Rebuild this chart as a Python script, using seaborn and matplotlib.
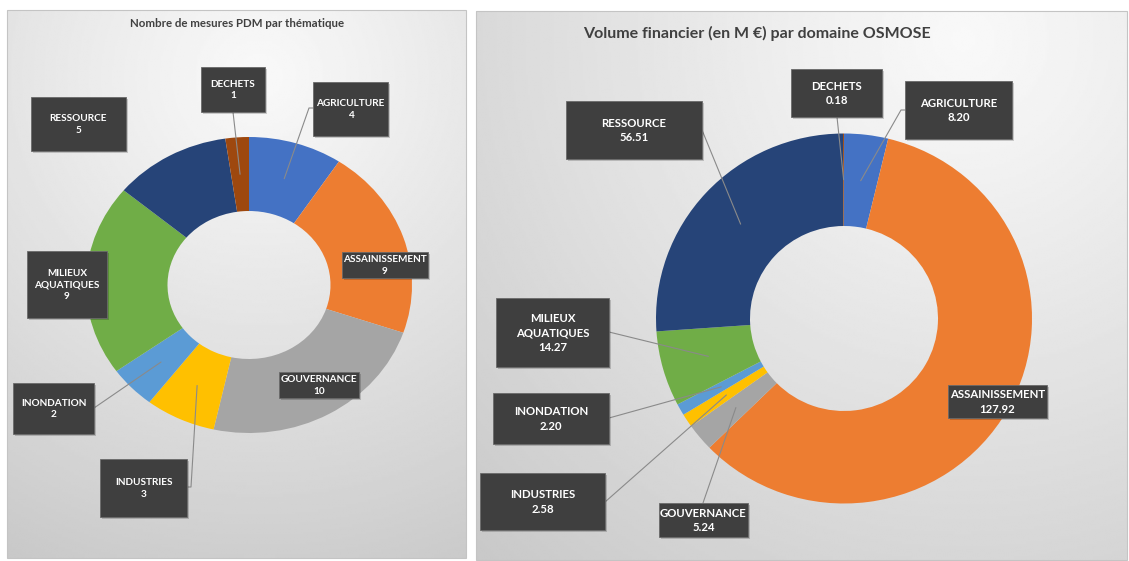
import numpy as np
import matplotlib
matplotlib.use("Agg")
import matplotlib.pyplot as plt
import seaborn as sns
from matplotlib.patches import Rectangle

# ---------------- data ----------------
categories = ["AGRICULTURE", "ASSAINISSEMENT", "GOUVERNANCE", "INDUSTRIES",
              "INONDATION", "MILIEUX AQUATIQUES", "RESSOURCE", "DECHETS"]
nb_mesures = [4, 9, 10, 3, 2, 9, 5, 1]
volume_meur = [8.20, 127.92, 5.24, 2.58, 2.20, 14.27, 56.51, 0.18]
title_left = "Nombre de mesures PDM par thématique"
title_right = "Volume financier (en M €) par domaine OSMOSE"

# ---------------- style ----------------
W, H = 1129, 561
sns.set_theme(style="white")
plt.rcParams["font.family"] = ["Lato", "DejaVu Sans"]
colors = sns.color_palette(["#4472C4", "#ED7D31", "#A5A5A5", "#FFC000",
                            "#5B9BD5", "#70AD47", "#264478", "#9E480E"])
BOX = "#3f3f3f"
LINE = "#8a8a8a"
TXT = "#404040"

# layout (pixel boxes, top-based)
boxes_left = {
    "AGRICULTURE": (313, 82, 388, 136),
    "ASSAINISSEMENT": (342, 252, 428, 278),
    "GOUVERNANCE": (279, 372, 359, 398),
    "INDUSTRIES": (100, 459, 187, 517),
    "INONDATION": (13, 383, 94, 434),
    "MILIEUX AQUATIQUES": (27, 251, 107, 318),
    "RESSOURCE": (31, 97, 126, 151),
    "DECHETS": (201, 67, 265, 112),
}
leaders_left = {
    "AGRICULTURE": [(313, 108), (309, 108)],
    "INDUSTRIES": [(187, 487), (191, 487)],
    "INONDATION": [(94, 408)],
    "DECHETS": [(233, 112)],
}
boxes_right = {
    "AGRICULTURE": (905, 81, 1012, 139),
    "ASSAINISSEMENT": (948, 385, 1047, 418),
    "GOUVERNANCE": (659, 503, 748, 537),
    "INDUSTRIES": (480, 473, 605, 530),
    "INONDATION": (493, 393, 609, 444),
    "MILIEUX AQUATIQUES": (496, 298, 609, 367),
    "RESSOURCE": (566, 101, 702, 159),
    "DECHETS": (791, 69, 882, 117),
}
leaders_right = {
    "AGRICULTURE": [(905, 110), (901, 110)],
    "GOUVERNANCE": [(703, 503)],
    "INDUSTRIES": [(605, 502)],
    "INONDATION": [(609, 418)],
    "MILIEUX AQUATIQUES": [(609, 332)],
    "RESSOURCE": [(702, 130)],
    "DECHETS": [(837, 117)],
}

fig = plt.figure(figsize=(W / 100, H / 100), dpi=100)
fig.patch.set_facecolor("white")

# background panels
bg = fig.add_axes([0, 0, 1, 1], zorder=0)
bg.set_xlim(0, W)
bg.set_ylim(H, 0)
bg.axis("off")


def panel(x0, y0, x1, y1, gx, gy):
    yy, xx = np.mgrid[0:1:220j, 0:1:320j]
    d = np.hypot((xx - gx) * (x1 - x0), (yy - gy) * (y1 - y0))
    d = d / d.max()
    img = 0.975 - 0.19 * d ** 1.1
    bg.imshow(img, cmap="gray", vmin=0, vmax=1, extent=(x0, x1, y1, y0),
              origin="upper", aspect="auto", interpolation="bilinear", zorder=0)
    bg.add_patch(Rectangle((x0, y0), x1 - x0, y1 - y0, fill=False,
                           edgecolor="#c4c4c4", lw=0.8, zorder=1))


panel(7, 10, 466, 558, 0.55, 0.12)
panel(476, 11, 1127, 560, 0.75, 0.05)

# overlay for labels
ov = fig.add_axes([0, 0, 1, 1], zorder=3)
ov.patch.set_alpha(0)
ov.set_xlim(0, W)
ov.set_ylim(H, 0)
ov.axis("off")


def donut(cx, cy, rx, ry, values):
    ax = fig.add_axes([(cx - rx) / W, (H - cy - ry) / H, 2 * rx / W, 2 * ry / H], zorder=1)
    ax.patch.set_alpha(0)
    wedges, _ = ax.pie(values, colors=colors, startangle=90, counterclock=False,
                       radius=1, wedgeprops=dict(width=0.5, linewidth=0))
    ax.set_aspect("auto")
    ax.set_xlim(-1, 1)
    ax.set_ylim(-1, 1)
    ax.axis("off")
    return ax, wedges


def anchor(ax, w):
    t = np.deg2rad((w.theta1 + w.theta2) / 2)
    disp = ax.transData.transform((0.75 * np.cos(t), 0.75 * np.sin(t)))
    return ov.transData.inverted().transform(disp)


def labels(ax, wedges, values, fmt, boxes, leaders, fs, ls):
    for name, v, w in zip(categories, values, wedges):
        x0, y0, x1, y1 = boxes[name]
        ov.add_patch(Rectangle((x0 + 2, y0 + 2), x1 - x0, y1 - y0,
                               facecolor="black", alpha=0.18, lw=0, zorder=2))
        ov.add_patch(Rectangle((x0, y0), x1 - x0, y1 - y0, facecolor=BOX,
                               edgecolor="#6a6a6a", lw=0.6, zorder=3))
        txt = name.replace(" ", "\n") + "\n" + fmt.format(v)
        ov.text((x0 + x1) / 2, (y0 + y1) / 2 + 0.5, txt, ha="center", va="center",
                color="white", fontsize=fs, fontweight="bold", linespacing=ls, zorder=4)
        if name in leaders:
            pts = list(leaders[name]) + [tuple(anchor(ax, w))]
            xs, ys = zip(*pts)
            ov.plot(xs, ys, color=LINE, lw=0.8, zorder=1.5)


axL, wL = donut(249, 285, 163, 148, nb_mesures)
axR, wR = donut(844, 318.5, 188, 185, volume_meur)

labels(axL, wL, nb_mesures, "{:d}", boxes_left, leaders_left, 7.2, 1.3)
labels(axR, wR, volume_meur, "{:.2f}", boxes_right, leaders_right, 8.2, 1.4)

ov.text(237, 23, title_left, ha="center", va="center", color=TXT,
        fontsize=8.3, fontweight="bold")
ov.text(757, 33, title_right, ha="center", va="center", color=TXT,
        fontsize=11.5, fontweight="bold")

fig.savefig("out.png", dpi=100, facecolor="white")
